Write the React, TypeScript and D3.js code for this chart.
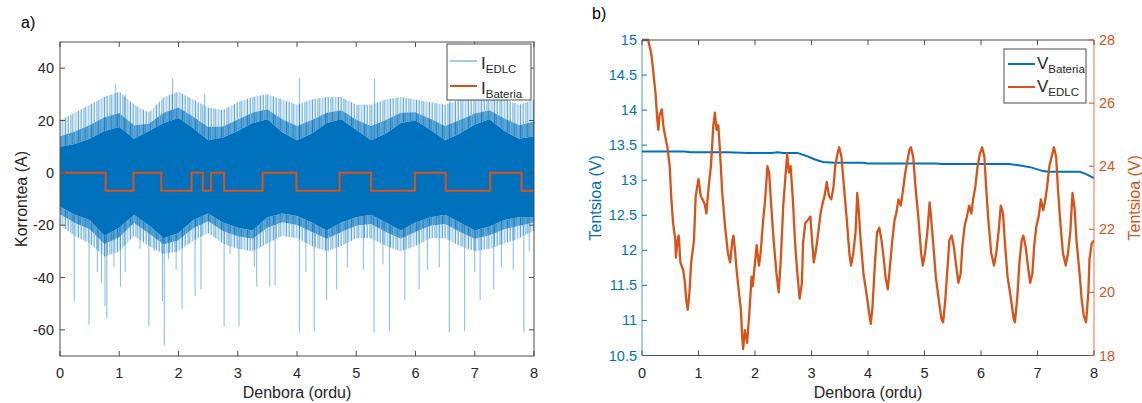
import React from 'react';
import * as d3 from 'd3';

// ---- panel a: currents ----
const envT = [0, 0.25, 0.5, 0.75, 1, 1.25, 1.5, 1.75, 2, 2.25, 2.5, 2.75, 3, 3.25, 3.5, 3.75, 4,
  4.25, 4.5, 4.75, 5, 5.25, 5.5, 5.75, 6, 6.25, 6.5, 6.75, 7, 7.25, 7.5, 7.75, 8];
// top of the thin spikes above the dense band
const edlcSpikeHi = [20, 23, 26, 29, 31, 26, 23, 29, 31, 28, 25, 24, 27, 29, 30, 28, 26,
  28, 29, 29, 26, 26, 28, 29, 28, 27, 26, 28, 29, 29, 28, 26, 28];
// dense band
const edlcCoreHi = [10, 11, 13, 16, 17.5, 13, 16, 19, 21, 17, 12.5, 13.5, 16, 19, 20.5, 15.5, 12.5,
  15, 19, 20.5, 16.5, 12.5, 15, 19, 20, 16.5, 12.5, 15, 18.5, 20.5, 16, 13, 14];
const edlcCoreLo = [-13, -16, -18, -24, -21, -16, -20, -25, -23, -18, -15.5, -19, -21, -22, -17, -15.5, -16.5,
  -19, -22, -19, -17, -16, -19, -22, -19, -17, -16, -19, -22, -20.5, -18, -17, -17];
const edlcSpikeLo = [-20, -24, -27, -32, -30, -24, -28, -31, -30, -26, -23, -27, -29, -30, -27, -24, -25,
  -28, -30, -28, -25, -25, -28, -30, -28, -25, -25, -28, -30, -29, -27, -25, -22];
// isolated spikes [t, A]
const edlcSpikes: [number, number][] = [
  [0.24, -49], [0.49, -58], [0.63, -38], [0.7, -42], [0.76, -51], [0.79, -55.5], [0.91, -36],
  [1.02, -43.5], [1.1, -38], [1.35, -29], [1.5, -58.5], [1.59, -30], [1.73, -49], [1.76, -66],
  [1.83, -33], [1.96, -37], [2.06, -52], [2.28, -47], [2.38, -44.5], [2.77, -58.5], [2.87, -31],
  [3.02, -58.5], [3.28, -36], [3.32, -43.5], [3.54, -43.5], [3.63, -43], [4.04, -61], [4.15, -38],
  [4.29, -60.5], [4.5, -48.5], [4.67, -44.5], [4.85, -36], [5.12, -37], [5.3, -61], [5.45, -35],
  [5.56, -60.5], [5.82, -48.5], [6.06, -44.5], [6.2, -37], [6.4, -36], [6.57, -61], [6.83, -60.5],
  [7.0, -38], [7.09, -48.5], [7.32, -44.5], [7.45, -36], [7.65, -37], [7.83, -61], [7.92, -30],
  [0.94, 34], [1.1, 30], [1.9, 36], [2.44, 30], [4.04, 36], [5.31, 36], [6.58, 36],
];
const batT = [0, 0.77, 1.24, 1.71, 2.22, 2.41, 2.55, 2.77, 3.42, 3.99, 4.72, 5.25, 5.99, 6.51, 7.26, 7.79, 8];
const batI = [0, -6.8, 0, -6.8, 0, -6.8, 0, -6.8, 0, -6.8, 0, -6.8, 0, -6.8, 0, -6.8, -6.8];
const aYTicks = [-60, -40, -20, 0, 20, 40];
const xTicks = [0, 1, 2, 3, 4, 5, 6, 7, 8];

// ---- panel b: voltages ----
const vBateria: [number, number][] = [
  [0, 13.41], [0.75, 13.41], [0.85, 13.4], [1.5, 13.4], [1.9, 13.39], [2.3, 13.39], [2.4, 13.4],
  [2.5, 13.39], [2.75, 13.39], [2.9, 13.35], [3.05, 13.3], [3.2, 13.26], [3.4, 13.25], [3.9, 13.25],
  [4.0, 13.24], [5.2, 13.24], [5.3, 13.23], [6.5, 13.23], [6.7, 13.21], [6.9, 13.18], [7.1, 13.13],
  [7.2, 13.12], [7.75, 13.12], [7.85, 13.09], [8, 13.03],
];
const vEdlc: [number, number][] = [
  [0, 28], [0.11, 28], [0.17, 27.5], [0.24, 26.3], [0.27, 25.5], [0.29, 25.15], [0.31, 25.6], [0.35, 25.8],
  [0.38, 25.25], [0.41, 24.95], [0.45, 24.6], [0.49, 24.0], [0.52, 22.95], [0.55, 22.2], [0.59, 21.65],
  [0.6, 21.1], [0.63, 21.65], [0.65, 21.8], [0.68, 20.95], [0.73, 20.7], [0.76, 20.3], [0.78, 19.8],
  [0.81, 19.45], [0.84, 20.0], [0.87, 20.95], [0.92, 21.65], [0.95, 23.05], [1.0, 23.6], [1.04, 23.05],
  [1.07, 22.95], [1.11, 22.8], [1.14, 22.5], [1.18, 23.35], [1.22, 24.0], [1.26, 25.25], [1.29, 25.7],
  [1.32, 25.15], [1.35, 25.3], [1.38, 24.5], [1.42, 23.15], [1.47, 22.1], [1.52, 21.25], [1.56, 20.95],
  [1.6, 21.65], [1.62, 21.8], [1.65, 21.25], [1.68, 20.6], [1.71, 20.1], [1.75, 19.45], [1.77, 18.7],
  [1.79, 18.2], [1.82, 18.8], [1.86, 18.4], [1.9, 19.35], [1.94, 20.5], [1.96, 20.2], [2.0, 20.95],
  [2.03, 21.5], [2.07, 20.85], [2.1, 21.25], [2.14, 22.2], [2.18, 22.95], [2.22, 24.0], [2.25, 23.8],
  [2.28, 22.95], [2.33, 21.65], [2.38, 20.6], [2.42, 20.0], [2.46, 21.15], [2.5, 22.75], [2.54, 23.7],
  [2.57, 24.4], [2.6, 23.8], [2.63, 24.0], [2.67, 22.95], [2.71, 21.55], [2.75, 20.6], [2.79, 19.8],
  [2.83, 20.3], [2.85, 21.55], [2.89, 22.2], [2.94, 22.3], [2.98, 22.4], [3.01, 21.65], [3.04, 20.95],
  [3.08, 21.35], [3.12, 21.9], [3.16, 22.5], [3.2, 22.85], [3.23, 23.05], [3.27, 23.5], [3.31, 23.05],
  [3.35, 22.95], [3.39, 23.35], [3.42, 24.0], [3.46, 24.4], [3.49, 24.6], [3.53, 24.3], [3.57, 23.45],
  [3.62, 22.4], [3.67, 21.25], [3.7, 20.85], [3.74, 21.25], [3.78, 21.9], [3.81, 23.15], [3.83, 22.75],
  [3.87, 21.65], [3.92, 20.6], [3.97, 20.0], [4.02, 19.35], [4.05, 19.0], [4.08, 19.55], [4.12, 20.85],
  [4.16, 21.9], [4.2, 22.05], [4.24, 21.65], [4.28, 21.05], [4.31, 20.5], [4.35, 20.1], [4.39, 20.85],
  [4.43, 21.65], [4.47, 22.3], [4.5, 22.5], [4.54, 22.95], [4.58, 22.75], [4.62, 23.25], [4.66, 23.8],
  [4.7, 24.2], [4.73, 24.5], [4.76, 24.6], [4.8, 24.3], [4.84, 23.35], [4.89, 22.4], [4.94, 21.25],
  [4.97, 20.85], [5.01, 21.25], [5.05, 21.9], [5.09, 22.85], [5.11, 22.5], [5.15, 21.65], [5.2, 20.5],
  [5.25, 19.8], [5.3, 19.15], [5.33, 19.05], [5.37, 19.8], [5.41, 20.85], [5.44, 21.65], [5.48, 21.8],
  [5.52, 21.45], [5.56, 20.85], [5.6, 20.3], [5.64, 20.6], [5.67, 21.45], [5.71, 22.1], [5.75, 22.4],
  [5.79, 22.75], [5.83, 22.5], [5.86, 22.95], [5.9, 23.35], [5.94, 24.0], [5.98, 24.4], [6.02, 24.6],
  [6.06, 24.3], [6.09, 23.35], [6.13, 22.3], [6.18, 21.25], [6.23, 20.85], [6.27, 21.25], [6.31, 21.9],
  [6.35, 22.75], [6.39, 22.5], [6.42, 21.65], [6.47, 20.5], [6.53, 19.8], [6.58, 19.15], [6.6, 19.05],
  [6.64, 19.8], [6.68, 20.95], [6.72, 21.65], [6.75, 21.8], [6.79, 21.45], [6.83, 20.85], [6.87, 20.3],
  [6.91, 20.6], [6.94, 21.45], [6.98, 22.1], [7.02, 22.4], [7.06, 22.95], [7.1, 22.6], [7.14, 22.95],
  [7.17, 23.35], [7.21, 24.0], [7.25, 24.3], [7.29, 24.6], [7.33, 24.3], [7.36, 23.35], [7.4, 22.3],
  [7.45, 21.25], [7.5, 20.85], [7.54, 21.25], [7.58, 21.9], [7.62, 23.15], [7.66, 22.6], [7.69, 21.65],
  [7.75, 20.5], [7.78, 19.8], [7.82, 19.25], [7.86, 19.05], [7.9, 20.0], [7.92, 21.05], [7.96, 21.55],
  [8.0, 21.65],
];
const bLeftTicks = [10.5, 11, 11.5, 12, 12.5, 13, 13.5, 14, 14.5, 15];
const bRightTicks = [18, 20, 22, 24, 26, 28];

const FONT = '"Liberation Sans", Arial, Helvetica, sans-serif';
const BLUE = '#0072BD';
const ORANGE = '#D95319';
const AXIS = '#4d4d4d';
const TXT = '#262626';

const A = {left: 60, right: 534, top: 42, bottom: 356};
const B = {left: 642, right: 1094, top: 40, bottom: 355.5};

// irregular hatch offsets and opacities for the spike fringe texture
const hatchOut: [number, number][] = [[0.5, 0.7], [2.2, 0.35], [3.4, 0.6], [5.6, 0.45], [7.1, 0.75], [8.3, 0.3], [10.2, 0.55], [12.0, 0.4]];
const hatchIn: [number, number][] = [[0.5, 0.95], [1.6, 0.7], [2.7, 0.9], [3.9, 0.6], [5.0, 0.95], [6.3, 0.75], [7.4, 0.9], [8.6, 0.65], [9.8, 0.9], [11.0, 0.7], [12.2, 0.85]];

function PanelA() {
  const x = d3.scaleLinear().domain([0, 8]).range([A.left, A.right]);
  const y = d3.scaleLinear().domain([-70, 50]).range([A.bottom, A.top]);
  const band = (lo: number[], hi: number[]) =>
    d3.area<number>()
      .x(t => x(t))
      .y0((_, i) => y(lo[i]))
      .y1((_, i) => y(hi[i]))(envT) || '';
  const mid = (p: number[], q: number[], w: number) => p.map((v, i) => v + (q[i] - v) * w);
  const bat = d3.line<number>()
    .x(t => x(t))
    .y((_, i) => y(batI[i]))
    .curve(d3.curveStepAfter)(batT) || '';

  return (
    <g>
      <defs>
        <clipPath id="clipA">
          <rect x={A.left} y={A.top} width={A.right - A.left} height={A.bottom - A.top} />
        </clipPath>
        <pattern id="fringeOut" width="13" height="8" patternUnits="userSpaceOnUse">
          {hatchOut.map(([px, op], i) => (
            <line key={i} x1={px} y1="0" x2={px} y2="8" stroke={BLUE} strokeOpacity={op} strokeWidth="0.9" />
          ))}
        </pattern>
        <pattern id="fringeIn" width="13" height="8" patternUnits="userSpaceOnUse">
          <rect width="13" height="8" fill={BLUE} fillOpacity="0.3" />
          {hatchIn.map(([px, op], i) => (
            <line key={i} x1={px} y1="0" x2={px} y2="8" stroke={BLUE} strokeOpacity={op} strokeWidth="0.9" />
          ))}
        </pattern>
      </defs>
      <rect x={A.left} y={A.top} width={A.right - A.left} height={A.bottom - A.top} fill="#fff" />
      <g clipPath="url(#clipA)">
        {edlcSpikes.map(([t, v], i) => (
          <line key={i} x1={x(t)} x2={x(t)} y1={y(0)} y2={y(v)}
            stroke={BLUE} strokeOpacity={0.55} strokeWidth={0.9} />
        ))}
        <path d={band(mid(edlcCoreHi, edlcSpikeHi, 0.4), edlcSpikeHi)} fill="url(#fringeOut)" />
        <path d={band(edlcCoreHi, mid(edlcCoreHi, edlcSpikeHi, 0.4))} fill="url(#fringeIn)" />
        <path d={band(edlcSpikeLo, mid(edlcCoreLo, edlcSpikeLo, 0.4))} fill="url(#fringeOut)" />
        <path d={band(mid(edlcCoreLo, edlcSpikeLo, 0.4), edlcCoreLo)} fill="url(#fringeIn)" />
        <path d={band(edlcCoreLo, edlcCoreHi)} fill={BLUE} />
        <path d={bat} fill="none" stroke={ORANGE} strokeWidth={2} />
      </g>
      <rect x={A.left} y={A.top} width={A.right - A.left} height={A.bottom - A.top}
        fill="none" stroke={AXIS} strokeWidth={1} />
      {xTicks.map(t => (
        <g key={t}>
          <line x1={x(t)} x2={x(t)} y1={A.bottom} y2={A.bottom - 5} stroke={AXIS} />
          <line x1={x(t)} x2={x(t)} y1={A.top} y2={A.top + 5} stroke={AXIS} />
          <text x={x(t)} y={A.bottom + 22} textAnchor="middle" fontSize={14.5} fill={TXT}>{t}</text>
        </g>
      ))}
      {aYTicks.map(v => (
        <g key={v}>
          <line x1={A.left} x2={A.left + 5} y1={y(v)} y2={y(v)} stroke={AXIS} />
          <line x1={A.right} x2={A.right - 5} y1={y(v)} y2={y(v)} stroke={AXIS} />
          <text x={A.left - 6} y={y(v) + 5} textAnchor="end" fontSize={14.5} fill={TXT}>{v}</text>
        </g>
      ))}
      <text x={(A.left + A.right) / 2} y={398} textAnchor="middle" fontSize={16} fill={TXT}>Denbora (ordu)</text>
      <text transform={`translate(27,${(A.top + A.bottom) / 2}) rotate(-90)`} textAnchor="middle"
        fontSize={16} fill={TXT}>Korrontea (A)</text>
      <text x={21} y={28} fontSize={16} fill="#000">a)</text>

      <rect x={447} y={44} width={84} height={56} fill="#fff" stroke={AXIS} strokeWidth={1} />
      <line x1={450} x2={477} y1={61} y2={61} stroke={BLUE} strokeOpacity={0.6} strokeWidth={1.2} />
      <text x={481} y={69} fontSize={17} fill={TXT}>I<tspan fontSize={11.5} dy={4}>EDLC</tspan></text>
      <line x1={450} x2={477} y1={86} y2={86} stroke={ORANGE} strokeWidth={2} />
      <text x={481} y={94} fontSize={17} fill={TXT}>I<tspan fontSize={11.5} dy={4}>Bateria</tspan></text>
    </g>
  );
}

function PanelB() {
  const x = d3.scaleLinear().domain([0, 8]).range([B.left, B.right]);
  const yL = d3.scaleLinear().domain([10.5, 15]).range([B.bottom, B.top]);
  const yR = d3.scaleLinear().domain([18, 28]).range([B.bottom, B.top]);
  const batLine = d3.line<[number, number]>().x(d => x(d[0])).y(d => yL(d[1]))(vBateria) || '';
  const edlcLine = d3.line<[number, number]>().x(d => x(d[0])).y(d => yR(d[1]))(vEdlc) || '';

  return (
    <g>
      <defs>
        <clipPath id="clipB">
          <rect x={B.left} y={B.top - 2} width={B.right - B.left} height={B.bottom - B.top + 2} />
        </clipPath>
      </defs>
      <g clipPath="url(#clipB)">
        <path d={batLine} fill="none" stroke={BLUE} strokeWidth={2} />
        <path d={edlcLine} fill="none" stroke={ORANGE} strokeWidth={2.3} strokeLinejoin="round" />
      </g>
      <line x1={B.left} x2={B.right} y1={B.top} y2={B.top} stroke={AXIS} />
      <line x1={B.left} x2={B.right} y1={B.bottom} y2={B.bottom} stroke={AXIS} />
      <line x1={B.left} x2={B.left} y1={B.top} y2={B.bottom} stroke={BLUE} strokeOpacity={0.7} />
      <line x1={B.right} x2={B.right} y1={B.top} y2={B.bottom} stroke={ORANGE} strokeOpacity={0.8} />
      {xTicks.map(t => (
        <g key={t}>
          <line x1={x(t)} x2={x(t)} y1={B.bottom} y2={B.bottom - 5} stroke={AXIS} />
          <line x1={x(t)} x2={x(t)} y1={B.top} y2={B.top + 5} stroke={AXIS} />
          <text x={x(t)} y={B.bottom + 22} textAnchor="middle" fontSize={14.5} fill={TXT}>{t}</text>
        </g>
      ))}
      {bLeftTicks.map(v => (
        <g key={v}>
          <line x1={B.left} x2={B.left + 5} y1={yL(v)} y2={yL(v)} stroke={BLUE} />
          <text x={B.left - 5} y={yL(v) + 5} textAnchor="end" fontSize={14.5} fill={BLUE}>{v}</text>
        </g>
      ))}
      {bRightTicks.map(v => (
        <g key={v}>
          <line x1={B.right} x2={B.right - 5} y1={yR(v)} y2={yR(v)} stroke={ORANGE} />
          <text x={B.right + 5} y={yR(v) + 5} textAnchor="start" fontSize={14.5} fill={ORANGE}>{v}</text>
        </g>
      ))}
      <text x={(B.left + B.right) / 2} y={398} textAnchor="middle" fontSize={16} fill={TXT}>Denbora (ordu)</text>
      <text transform={`translate(601,${(B.top + B.bottom) / 2}) rotate(-90)`} textAnchor="middle"
        fontSize={16} fill={BLUE}>Tentsioa (V)</text>
      <text transform={`translate(1140,${(B.top + B.bottom) / 2}) rotate(-90)`} textAnchor="middle"
        fontSize={16} fill={ORANGE}>Tentsioa (V)</text>
      <text x={592} y={19} fontSize={16} fill="#000">b)</text>

      <rect x={1004} y={49} width={82} height={54} fill="#fff" stroke={AXIS} strokeWidth={1} />
      <line x1={1008} x2={1035} y1={64} y2={64} stroke={BLUE} strokeWidth={2} />
      <text x={1037} y={68.5} fontSize={17} fill={TXT}>V<tspan fontSize={11.5} dy={4.5}>Bateria</tspan></text>
      <line x1={1008} x2={1035} y1={87} y2={87} stroke={ORANGE} strokeWidth={2} />
      <text x={1037} y={91.5} fontSize={17} fill={TXT}>V<tspan fontSize={11.5} dy={4.5}>EDLC</tspan></text>
    </g>
  );
}

export default function App() {
  return (
    <div style={{position: 'absolute', left: 0, top: 0}}>
      <svg width={1142} height={403} style={{display: 'block', fontFamily: FONT}}>
        <rect width={1142} height={403} fill="#fff" />
        <PanelA />
        <PanelB />
      </svg>
    </div>
  );
}
